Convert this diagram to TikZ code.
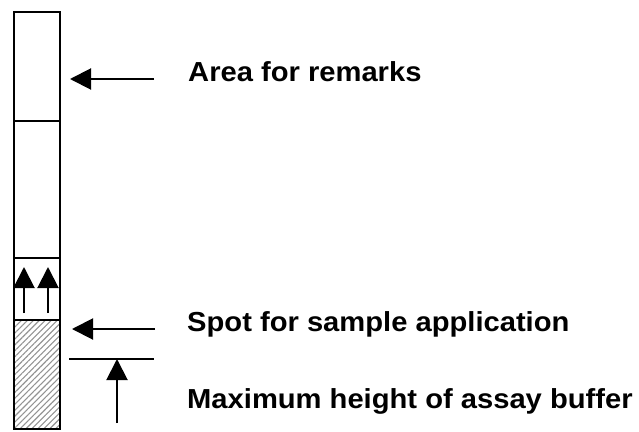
\documentclass[tikz,border=0pt]{standalone}
\usepackage{fontspec}
\setmainfont{Liberation Sans}
\usetikzlibrary{arrows.meta,patterns.meta}
\tikzset{
  seg/.style={draw=black,line width=2pt},
  pointer/.style={line width=2pt,-{Triangle[length=21pt,width=21pt]}},
  lbl/.style={anchor=base west,inner sep=0pt,font=\fontsize{27.5}{30}\selectfont\bfseries,xscale=1.06,transform shape},
}
\begin{document}
\begin{tikzpicture}[x=1pt,y=-1pt]
\useasboundingbox (0,0) rectangle (639,431);
% strip
\fill[pattern={Lines[angle=45,distance=4.2pt,line width=1.1pt]},pattern color=gray!85] (14,320) rectangle (60,429);
\draw[seg] (14,12) rectangle (60,429);
\draw[seg] (14,121) -- (60,121);
\draw[seg] (14,258) -- (60,258);
\draw[seg] (14,320) -- (60,320);
% small up arrows
\coordinate (u1s) at (24,313); \coordinate (u1e) at (24,267);
\coordinate (u2s) at (48,313); \coordinate (u2e) at (48,267);
\draw[pointer] (u1s) -- (u1e);
\draw[pointer] (u2s) -- (u2e);
% area for remarks
\coordinate (a1) at (154,79); \coordinate (a2) at (70,79);
\draw[pointer] (a1) -- (a2);
\node[lbl] (tArea) at (188,81.7) {Area for remarks};
% spot
\coordinate (b1) at (155,329); \coordinate (b2) at (72,329);
\draw[pointer] (b1) -- (b2);
\node[lbl] (tSpot) at (187,331.7) {Spot for sample application};
% maximum height
\coordinate (h1) at (69,359); \coordinate (h2) at (154,359);
\draw[line width=2pt] (h1) -- (h2);
\coordinate (m1) at (117,423); \coordinate (m2) at (117,359);
\draw[pointer] (m1) -- (m2);
\node[lbl] (tMax) at (187,408.3) {Maximum height of assay buffer};
\end{tikzpicture}
\end{document}
